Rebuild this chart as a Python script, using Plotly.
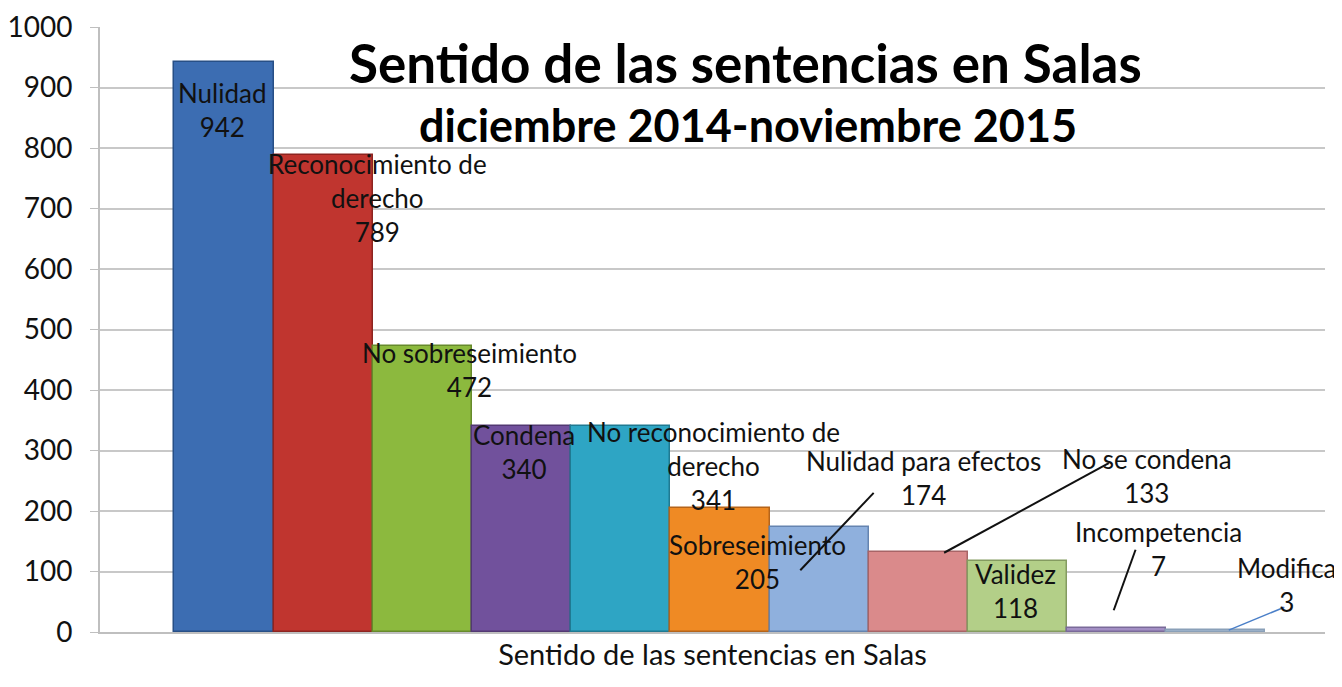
import plotly.graph_objects as go

categories = ["Nulidad", "Reconocimiento de derecho", "No sobreseimiento", "Condena",
              "No reconocimiento de derecho", "Sobreseimiento", "Nulidad para efectos",
              "No se condena", "Validez", "Incompetencia", "Modifica"]
values = [942, 789, 472, 340, 341, 205, 174, 133, 118, 7, 3]
label_names = ["Nulidad", "Reconocimiento de<br>derecho", "No sobreseimiento", "Condena",
               "No reconocimiento de<br>derecho", "Sobreseimiento", "Nulidad para efectos",
               "No se condena", "Validez", "Incompetencia", "Modifica"]
colors = ["#3c6db2", "#c0352f", "#8cb93e", "#71519c", "#2ea5c4", "#ef8a24",
          "#8fb0dd", "#da8a8b", "#b3cf88", "#a38fc4", "#a9bfd6"]
line_colors = ["#274f86", "#8d2420", "#668a2b", "#523872", "#1f7a92", "#b5641a",
               "#6584b0", "#a86466", "#849b60", "#7a6a99", "#8aa0b8"]

# label placement (category offset x, y in data units)
label_x = [-0.02, 1.55, 2.48, 3.02, 4.93, 5.38, 7.05, 9.31, 7.98, 9.42, 10.72]
label_y = [863, 718, 433, 298, 274, 116, 255, 258, 68, 137, 78]
# leader lines: (x0, y0, x1, y1, color, width) for labels placed away from bars
leaders = {6: (5.81, 102, 6.55, 230, "#111111", 2),
           7: (7.26, 131, 8.92, 279, "#111111", 2),
           9: (8.97, 36, 9.19, 136, "#111111", 2),
           10: (10.13, 3, 10.69, 41, "#4a7fc8", 1.5)}

xpos = list(range(len(categories)))

fig = go.Figure()
fig.add_trace(go.Bar(
    x=xpos, y=values, width=1.0,
    marker=dict(color=colors, line=dict(color=line_colors, width=1.5)),
    hovertext=categories, showlegend=False,
))

font = "Lato, 'Open Sans', sans-serif"
for i in range(len(categories)):
    fig.add_annotation(x=label_x[i], y=label_y[i], xref="x", yref="y",
                       text=f"{label_names[i]}<br>{values[i]}", showarrow=False,
                       font=dict(family=font, size=26, color="#111111"),
                       align="center", xanchor="center", yanchor="middle")
for i, (x0, y0, x1, y1, c, w) in leaders.items():
    fig.add_shape(type="line", x0=x0, y0=y0, x1=x1, y1=y1, xref="x", yref="y",
                  line=dict(color=c, width=w))

fig.add_annotation(x=0.527, y=0.941, xref="paper", yref="paper",
                   xanchor="center", yanchor="middle",
                   text="<b>Sentido de las sentencias en Salas</b>", showarrow=False,
                   font=dict(family=font, size=53, color="#000000"))
fig.add_annotation(x=0.529, y=0.838, xref="paper", yref="paper",
                   xanchor="center", yanchor="middle",
                   text="<b>diciembre 2014-noviembre 2015</b>", showarrow=False,
                   font=dict(family=font, size=45, color="#000000"))

# page body adds an 8px offset; size the figure so the plot area lands where the reference has it
fig.update_layout(
    width=1334, height=679,
    margin=dict(l=92, r=17, t=19, b=55),
    plot_bgcolor="white", paper_bgcolor="white",
    bargap=0,
    xaxis=dict(range=[-1.25, 11.1], showticklabels=False, showgrid=False, automargin=False,
               zeroline=False, showline=True, linecolor="#bfbfbf", linewidth=2,
               title=dict(text="Sentido de las sentencias en Salas",
                          font=dict(family=font, size=29, color="#111111"), standoff=12)),
    yaxis=dict(range=[0, 1000], dtick=100, showgrid=True, gridcolor="#c8c8c8", gridwidth=2,
               automargin=False,
               zeroline=False, showline=True, linecolor="#bfbfbf", linewidth=2,
               ticks="outside", ticklen=8, tickcolor="#bfbfbf",
               tickfont=dict(family=font, size=28, color="#111111"), ticklabelstandoff=12),
)

fig.write_html("out.html")
